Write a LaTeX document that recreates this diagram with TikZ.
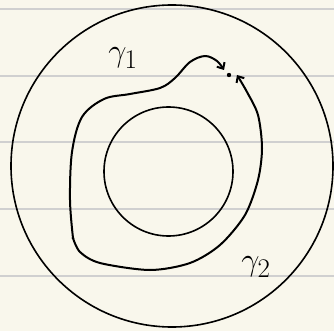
\documentclass[tikz,border=0pt]{standalone}
\usetikzlibrary{arrows.meta}
\definecolor{paper}{RGB}{249,247,236}
\definecolor{ruling}{RGB}{208,208,208}

\begin{document}
\begin{tikzpicture}[x=1pt,y=-1pt,
  ink/.style={line width=1.6pt},
  curvy/.style={line width=2pt,line cap=round,line join=round},
  tip/.style={-{Straight Barb[length=5pt,width=9pt,line width=2pt]}},
  lbl/.style={font=\Huge,scale=1.3}]
\fill[paper] (0,0) rectangle (334,331);
\useasboundingbox (0,0) rectangle (334,331);
\foreach \y in {9,76,142,209,276} {\draw[ruling,line width=1.6pt] (0,\y) -- (334,\y);}
% the annulus
\draw[ink] (172,166) circle (161pt);
\draw[ink] (168.5,171.5) circle (64.5pt);
% end points of the two paths
\coordinate (start) at (73,238);
\coordinate (pt) at (229,75);
\fill (start) circle (1.5pt);
\fill (pt) circle (2.2pt);
% gamma_1 over the top, gamma_2 round the bottom
\draw[curvy,tip] plot[smooth,tension=0.55] coordinates {(start) (70,200) (72,152) (82,117) (104,99) (130,94) (160,88) (175,78) (190,62) (205,56) (217,61) (224,70)};
\draw[curvy,tip] plot[smooth,tension=0.5] coordinates {(start) (80,252) (100,263) (150,270) (190,263) (220,245) (245,215) (258,180) (262,148) (258,115) (247,92) (237,75)};
\node[lbl] (g1) at (123,58) {$\gamma_1$};
\node[lbl] (g2) at (256,267) {$\gamma_2$};
\end{tikzpicture}
\end{document}
